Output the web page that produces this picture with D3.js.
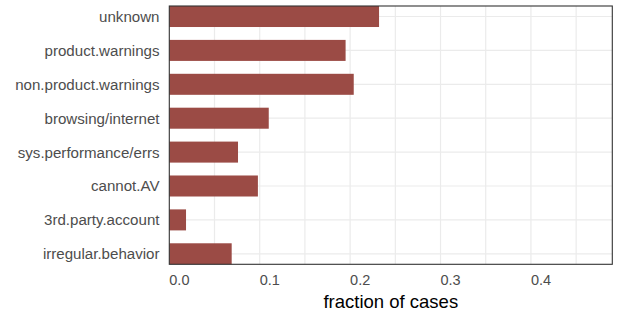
<!DOCTYPE html>
<html>
<head>
<meta charset="utf-8">
<script src="https://cdn.jsdelivr.net/npm/d3@7"></script>
<style>
  html, body { margin: 0; padding: 0; background: #fff; }
  svg { display: block; }
  text { font-family: "Liberation Sans", Arial, Helvetica, sans-serif; }
</style>
</head>
<body>
<svg id="chart" width="618" height="314"></svg>
<script>
const categories = ["unknown", "product.warnings", "non.product.warnings", "browsing/internet",
  "sys.performance/errs", "cannot.AV", "3rd.party.account", "irregular.behavior"];
const fractions = [0.232, 0.195, 0.204, 0.110, 0.076, 0.098, 0.0185, 0.069];
const xTickValues = [0, 0.1, 0.2, 0.3, 0.4];
const xTickLabels = ["0.0", "0.1", "0.2", "0.3", "0.4"];
const xGridValues = [0.05, 0.1, 0.15, 0.2, 0.25, 0.3, 0.35, 0.4, 0.45];
const xTitle = "fraction of cases";

const svg = d3.select("#chart");
const pLeft = 169.3, pRight = 612.3, pTop = 6, pBottom = 264.3;

const x = d3.scaleLinear().domain([0, 0.49]).range([pLeft, pRight]);
const y = d3.scaleBand().domain(categories).range([pTop, pBottom]).paddingInner(0.38).paddingOuter(0);

// gridlines
svg.append("g").selectAll("line").data(xGridValues).join("line")
  .attr("x1", d => x(d)).attr("x2", d => x(d))
  .attr("y1", pTop).attr("y2", pBottom)
  .attr("stroke", "#ebebeb").attr("stroke-width", 1.2);
svg.append("g").selectAll("line").data(categories).join("line")
  .attr("x1", pLeft).attr("x2", pRight)
  .attr("y1", d => y(d) + y.bandwidth() / 2).attr("y2", d => y(d) + y.bandwidth() / 2)
  .attr("stroke", "#ebebeb").attr("stroke-width", 1.2);

// bars
svg.append("g").selectAll("rect").data(categories).join("rect")
  .attr("x", x(0))
  .attr("y", d => y(d))
  .attr("width", (d, i) => x(fractions[i]) - x(0))
  .attr("height", y.bandwidth())
  .attr("fill", "#9b4b45");

// panel border
svg.append("rect")
  .attr("x", pLeft).attr("y", pTop)
  .attr("width", pRight - pLeft).attr("height", pBottom - pTop)
  .attr("fill", "none").attr("stroke", "#333").attr("stroke-width", 1.1);

// y labels
svg.append("g").selectAll("text").data(categories).join("text")
  .attr("x", 159.5)
  .attr("y", d => y(d) + y.bandwidth() / 2)
  .attr("text-anchor", "end")
  .attr("dominant-baseline", "central")
  .attr("font-size", "15.1px")
  .attr("fill", "#4d4d4d")
  .text(d => d);

// x tick labels (left-justified at tick)
svg.append("g").selectAll("text").data(xTickValues).join("text")
  .attr("x", d => x(d))
  .attr("y", 279.5)
  .attr("text-anchor", "start")
  .attr("dominant-baseline", "central")
  .attr("font-size", "14.5px")
  .attr("fill", "#4d4d4d")
  .text((d, i) => xTickLabels[i]);

// x title
svg.append("text")
  .attr("x", (pLeft + pRight) / 2)
  .attr("y", 301.5)
  .attr("text-anchor", "middle")
  .attr("dominant-baseline", "central")
  .attr("font-size", "18.5px")
  .attr("fill", "#000")
  .text(xTitle);
</script>
</body>
</html>
